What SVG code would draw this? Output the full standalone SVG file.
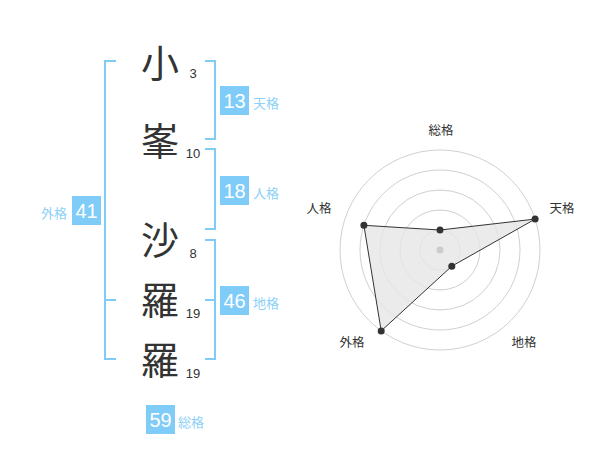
<svg xmlns="http://www.w3.org/2000/svg" width="600" height="470" viewBox="0 0 600 470">
<style>
.big{font-family:"Noto Sans CJK JP","Noto Sans CJK SC",sans-serif;font-size:38px;fill:#333;text-anchor:middle}
.num{font-family:"Liberation Sans","Noto Sans",sans-serif;font-size:13px;fill:#333;text-anchor:middle}
.br{fill:none;stroke:#80ccf8;stroke-width:2}
.box{fill:#80ccf8}
.bn{font-family:"Liberation Sans","Noto Sans",sans-serif;font-size:20px;fill:#fff;text-anchor:middle}
.lab{font-family:"Noto Sans CJK JP","Noto Sans CJK SC",sans-serif;font-size:13px;fill:#8cd0f8}
.rl{font-family:"Noto Sans CJK JP","Noto Sans CJK SC",sans-serif;font-size:12.5px;fill:#333;text-anchor:middle}
.ring{fill:none;stroke:#d0d0d0;stroke-width:1}
.pt{fill:#333}
</style>
<rect width="600" height="470" fill="#fff"/>
<g id="name">
<g id="c1"><text class="big" x="160" y="77">小</text><text class="num" x="193" y="78">3</text></g>
<g id="c2"><text class="big" x="160" y="155">峯</text><text class="num" x="193" y="158">10</text></g>
<g id="c3"><text class="big" x="160" y="254">沙</text><text class="num" x="193" y="258">8</text></g>
<g id="c4"><text class="big" x="160" y="314">羅</text><text class="num" x="193" y="318">19</text></g>
<g id="c5"><text class="big" x="160" y="374">羅</text><text class="num" x="193" y="378">19</text></g>
</g>
<g id="connectors">
<path class="br" d="M116 61H105V359H116M105 300H116"/>
<path class="br" d="M205 61H215V139H205"/>
<path class="br" d="M205 149H215V229H205"/>
<path class="br" d="M205 240H215V359H205M205 300H215"/>
</g>
<g id="tenkaku"><rect class="box" x="220" y="86" width="29" height="29"/><text class="bn" x="234.5" y="108">13</text><text class="lab" x="253" y="108">天格</text></g>
<g id="jinkaku"><rect class="box" x="220" y="176" width="29" height="29"/><text class="bn" x="234.5" y="198">18</text><text class="lab" x="253" y="198">人格</text></g>
<g id="chikaku"><rect class="box" x="220" y="286" width="29" height="29"/><text class="bn" x="234.5" y="308">46</text><text class="lab" x="253" y="308">地格</text></g>
<g id="gaikaku"><rect class="box" x="72" y="196" width="29" height="29"/><text class="bn" x="86.5" y="218">41</text><text class="lab" x="41" y="218">外格</text></g>
<g id="soukaku"><rect class="box" x="146" y="405" width="29" height="29"/><text class="bn" x="160.5" y="427">59</text><text class="lab" x="178" y="427">総格</text></g>
<g id="radar">
<circle class="ring" cx="440" cy="250" r="20"/>
<circle class="ring" cx="440" cy="250" r="40"/>
<circle class="ring" cx="440" cy="250" r="60"/>
<circle class="ring" cx="440" cy="250" r="80"/>
<circle class="ring" cx="440" cy="250" r="100"/>
<polygon points="440,230 535.1,219.1 451.8,266.2 381.2,330.9 363.9,225.3" fill="#e6e6e6" fill-opacity="0.8" stroke="#333" stroke-width="1"/>
<circle cx="440" cy="250" r="3.5" fill="#ccc"/>
<circle class="pt" cx="440" cy="230" r="3.5"/>
<circle class="pt" cx="535.1" cy="219.1" r="3.5"/>
<circle class="pt" cx="451.8" cy="266.2" r="3.5"/>
<circle class="pt" cx="381.2" cy="330.9" r="3.5"/>
<circle class="pt" cx="363.9" cy="225.3" r="3.5"/>
<text class="rl" x="441" y="135">総格</text>
<text class="rl" x="562" y="213">天格</text>
<text class="rl" x="319" y="213">人格</text>
<text class="rl" x="352" y="347">外格</text>
<text class="rl" x="524" y="347">地格</text>
</g>
</svg>
